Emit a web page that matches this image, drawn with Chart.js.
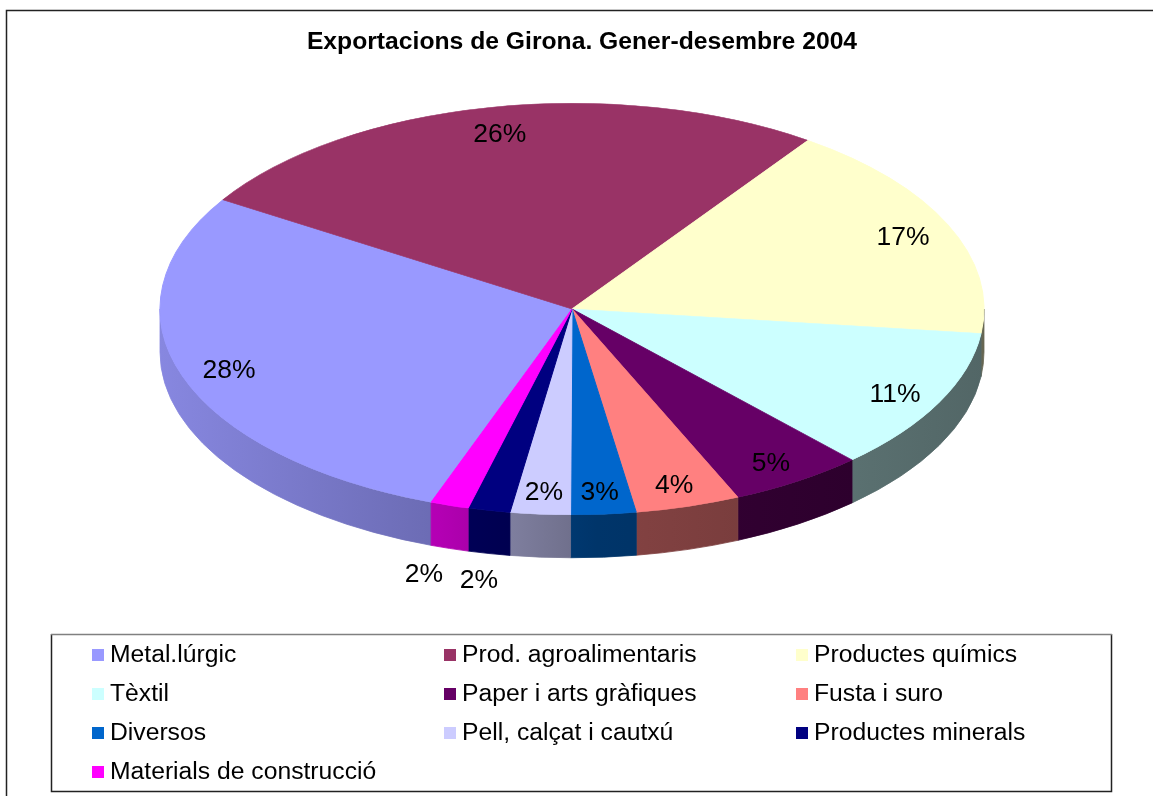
<!DOCTYPE html>
<html><head><meta charset="utf-8">
<script src="https://cdn.jsdelivr.net/npm/chart.js@4.4.1/dist/chart.umd.min.js"></script>
<style>html,body{margin:0;padding:0;background:#fff;overflow:hidden}canvas{display:block}</style>
</head><body><canvas id="c" width="1153" height="796"></canvas>
<script>
const chartTitle = 'Exportacions de Girona. Gener-desembre 2004';
const categories = ['Metal.lúrgic','Prod. agroalimentaris','Productes químics','Tèxtil','Paper i arts gràfiques','Fusta i suro','Diversos','Pell, calçat i cautxú','Productes minerals','Materials de construcció'];
const shares = [28.35, 25.8, 17.2, 11.2, 5.3, 4.1, 2.55, 2.35, 1.65, 1.5];
const sliceColors = ['#9999FF','#993366','#FFFFCC','#CCFFFF','#660066','#FF8080','#0066CC','#CCCCFF','#000080','#FF00FF'];

const FONT = '"Liberation Sans", Arial, sans-serif';
const STYLE = {
  depth: 43, labelRadius: 0.88, outsideRadius: 1.12, outsideBelow: 2, labelShiftY: 3, outsideMinGap: 55,
  sideStops: [[0,0.88],[0.34,0.70],[0.53,0.52],[1,0.40]],
  titleX: 582, titleY: 42,
  legendBox: [51,634,1111,791], legendCols: [92,444,796], legendRow0: 655, legendRowStep: 39, swatch: 12, swatchGap: 6
};

function hexRgb(h){ const n=parseInt(h.slice(1),16); return [(n>>16)&255,(n>>8)&255,n&255]; }
function shade(h,f){ const [r,g,b]=hexRgb(h); return 'rgb('+Math.round(r*f)+','+Math.round(g*f)+','+Math.round(b*f)+')'; }

const pie3d = {
  id: 'pie3d',
  beforeDatasetDraw(chart, args){
    const ctx = chart.ctx, area = chart.chartArea;
    const arcs = args.meta.data;
    const cx = arcs[0].x, cy = arcs[0].y, r = arcs[0].outerRadius;
    const sx = (area.width/2)/r, rx = r*sx, d = STYLE.depth;
    arcs.forEach((arc, i) => {
      const a0 = arc.startAngle, a1 = arc.endAngle;
      for (let k=-2; k<=2; k++){
        const lo = Math.max(a0, 2*Math.PI*k), hi = Math.min(a1, 2*Math.PI*k + Math.PI);
        if (hi <= lo) continue;
        const g = ctx.createLinearGradient(cx-rx, 0, cx+rx, 0);
        STYLE.sideStops.forEach(([p,f]) => g.addColorStop(p, shade(sliceColors[i], f)));
        ctx.beginPath();
        ctx.ellipse(cx, cy, rx, r, 0, lo, hi, false);
        ctx.ellipse(cx, cy+d, rx, r, 0, hi, lo, true);
        ctx.closePath();
        ctx.fillStyle = g; ctx.fill();
        ctx.strokeStyle = g; ctx.lineWidth = 0.8; ctx.stroke();
      }
    });
    ctx.save();
    ctx.translate(cx, cy); ctx.scale(sx, 1); ctx.translate(-cx, -cy);
  },
  afterDatasetDraw(chart, args){
    const ctx = chart.ctx;
    ctx.restore();
    const area = chart.chartArea;
    const arcs = args.meta.data;
    const total = shares.reduce((a,b)=>a+b,0);
    ctx.save();
    ctx.font = '26.5px ' + FONT;
    ctx.fillStyle = '#000';
    ctx.textAlign = 'center';
    ctx.textBaseline = 'middle';
    let prevOutsideX = null;
    arcs.forEach((arc, i) => {
      const cx = arc.x, cy = arc.y, r = arc.outerRadius;
      const sx = (area.width/2)/r;
      const mid = (arc.startAngle + arc.endAngle)/2;
      const pct = shares[i]/total*100;
      let f = STYLE.labelRadius, dy = STYLE.labelShiftY;
      const outside = pct < STYLE.outsideBelow;
      if (outside){ f = STYLE.outsideRadius; dy += STYLE.depth; }
      let x = cx + Math.cos(mid)*r*sx*f;
      const y = cy + Math.sin(mid)*r*f + dy;
      if (outside){
        if (prevOutsideX !== null && prevOutsideX - x < STYLE.outsideMinGap) x = prevOutsideX - STYLE.outsideMinGap;
        prevOutsideX = x;
      }
      ctx.fillText(Math.round(pct + 1e-9) + '%', x, y);
    });
    ctx.restore();
  },
  afterDraw(chart){
    const ctx = chart.ctx;
    ctx.save();
    ctx.strokeStyle = '#222'; ctx.lineWidth = 1.5;
    ctx.beginPath(); ctx.moveTo(6.5, 800); ctx.lineTo(6.5, 10.5); ctx.lineTo(1160, 10.5); ctx.stroke();
    ctx.fillStyle = '#000';
    ctx.font = 'bold 24.7px ' + FONT;
    ctx.textAlign = 'center'; ctx.textBaseline = 'middle';
    ctx.fillText(chartTitle, STYLE.titleX, STYLE.titleY);
    const [l,t,rr,b] = STYLE.legendBox;
    ctx.lineWidth = 1.5;
    ctx.strokeStyle = '#222';
    ctx.beginPath(); ctx.moveTo(l+0.5, t); ctx.lineTo(l+0.5, b+0.5); ctx.lineTo(rr+0.5, b+0.5); ctx.lineTo(rr+0.5, t); ctx.stroke();
    ctx.strokeStyle = '#808080';
    ctx.beginPath(); ctx.moveTo(l, t+0.5); ctx.lineTo(rr+1, t+0.5); ctx.stroke();
    ctx.font = '24.7px ' + FONT;
    ctx.textAlign = 'left'; ctx.textBaseline = 'middle';
    categories.forEach((name, i) => {
      const col = i % 3, row = Math.floor(i/3);
      const x = STYLE.legendCols[col], y = STYLE.legendRow0 + row*STYLE.legendRowStep;
      ctx.fillStyle = sliceColors[i];
      ctx.fillRect(x, y - STYLE.swatch/2, STYLE.swatch, STYLE.swatch);
      ctx.fillStyle = '#000';
      ctx.fillText(name, x + STYLE.swatch + STYLE.swatchGap, y);
    });
    ctx.restore();
  }
};

new Chart(document.getElementById('c'), {
  type: 'pie',
  data: { labels: categories, datasets: [{ data: shares, backgroundColor: sliceColors, borderColor: sliceColors, borderWidth: 0.5, hoverOffset: 0, clip: false }] },
  options: {
    responsive: false, animation: false, events: [], rotation: 200,
    layout: { padding: { left: 160, right: 169, top: 103, bottom: 281 } },
    plugins: { legend: { display: false }, title: { display: false }, tooltip: { enabled: false } }
  },
  plugins: [pie3d]
});
</script>
</body></html>
